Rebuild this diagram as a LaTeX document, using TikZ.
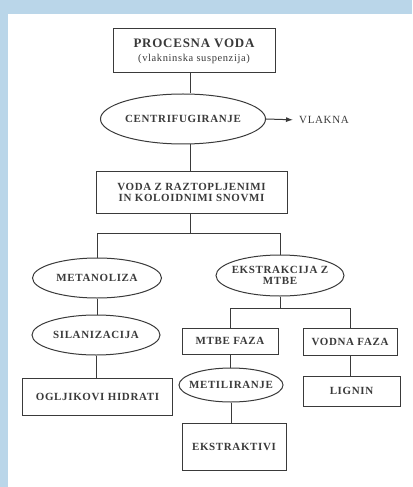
\documentclass[tikz,border=0pt]{standalone}
\usepackage{fontspec}
\setmainfont{Liberation Serif}
\newfontfamily\labfont[LetterSpace=6]{Liberation Serif}
\usetikzlibrary{arrows.meta,shapes.geometric}
\definecolor{frameblue}{HTML}{BAD6E9}
\definecolor{ink}{HTML}{3A3A3A}
\tikzset{
  lbl/.style={font=\labfont\bfseries\fontsize{11}{11.8}\selectfont, text=ink, align=center, inner sep=0pt},
  boxn/.style={lbl, draw=ink, line width=1bp, rectangle},
  ell/.style={lbl, draw=ink, line width=1bp, ellipse, inner xsep=-25bp, inner ysep=-12bp},
  conn/.style={draw=ink, line width=1bp},
}
\begin{document}
\begin{tikzpicture}[x=1bp,y=-1bp]
\useasboundingbox (0,0) rectangle (412,487);
\fill[white] (0,0) rectangle (412,487);
\fill[frameblue] (0,0) rectangle (412,14);
\fill[frameblue] (0,0) rectangle (8,487);

\coordinate (spine) at (190,0);
\node[boxn, minimum width=162bp, minimum height=44bp] (proc) at (194,51)
  {{\fontsize{13}{14}\selectfont PROCESNA VODA}\\[2.5bp]{\mdseries\fontsize{10.5}{12}\selectfont (vlakninska suspenzija)}};
\node[ell, minimum width=165bp, minimum height=50bp] (cen) at (183,119) {CENTRIFUGIRANJE};
\node[lbl, font=\labfont\fontsize{11}{12}\selectfont, anchor=west] (vlakna) at (299,120) {VLAKNA};
\node[boxn, minimum width=191bp, minimum height=41bp] (voda) at (191.5,192.5)
  {VODA Z RAZTOPLJENIMI\\IN KOLOIDNIMI SNOVMI};
\coordinate (br) at (190,233);
\node[ell, minimum width=129bp, minimum height=40bp] (met) at (97,278) {METANOLIZA};
\node[ell, minimum width=128bp, minimum height=41bp] (eks) at (280,275.5) {EKSTRAKCIJA Z\\MTBE};
\node[ell, minimum width=128bp, minimum height=40bp] (sil) at (96,335) {SILANIZACIJA};
\node[boxn, minimum width=149bp, minimum height=37bp] (ogl) at (97.5,396.5) {OGLJIKOVI HIDRATI};
\coordinate (br2) at (280,308);
\node[boxn, minimum width=96bp, minimum height=26bp] (mtbe) at (230,341) {MTBE FAZA};
\node[boxn, minimum width=94bp, minimum height=27bp] (vodna) at (350,341.5) {VODNA FAZA};
\node[ell, minimum width=104bp, minimum height=34bp] (meti) at (231,385) {METILIRANJE};
\node[boxn, minimum width=104bp, minimum height=47bp] (ekstr) at (234,446.5) {EKSTRAKTIVI};
\node[boxn, minimum width=97bp, minimum height=30bp] (lig) at (351.5,391) {LIGNIN};

\draw[conn] (proc.south -| spine) -- (cen.north -| spine);
\draw[conn, -{Latex[length=7bp,width=5bp]}, shorten >=6bp] (cen.east) -- (vlakna.west);
\draw[conn] (cen.south -| spine) -- (voda.north -| spine);
\draw[conn] (voda.south -| spine) -- (br);
\draw[conn] (met.north) -- (met.north |- br) -| (eks.north);
\draw[conn] (met.south) -- (sil.north -| met.south);
\draw[conn] (sil.south) -- (ogl.north -| sil.south);
\draw[conn] (eks.south) -- (br2);
\draw[conn] (mtbe.north) -- (mtbe.north |- br2) -| (vodna.north);
\draw[conn] (mtbe.south) -- (meti.north -| mtbe.south);
\draw[conn] (meti.south) -- (ekstr.north -| meti.south);
\draw[conn] (vodna.south) -- (lig.north -| vodna.south);
\end{tikzpicture}
\end{document}
